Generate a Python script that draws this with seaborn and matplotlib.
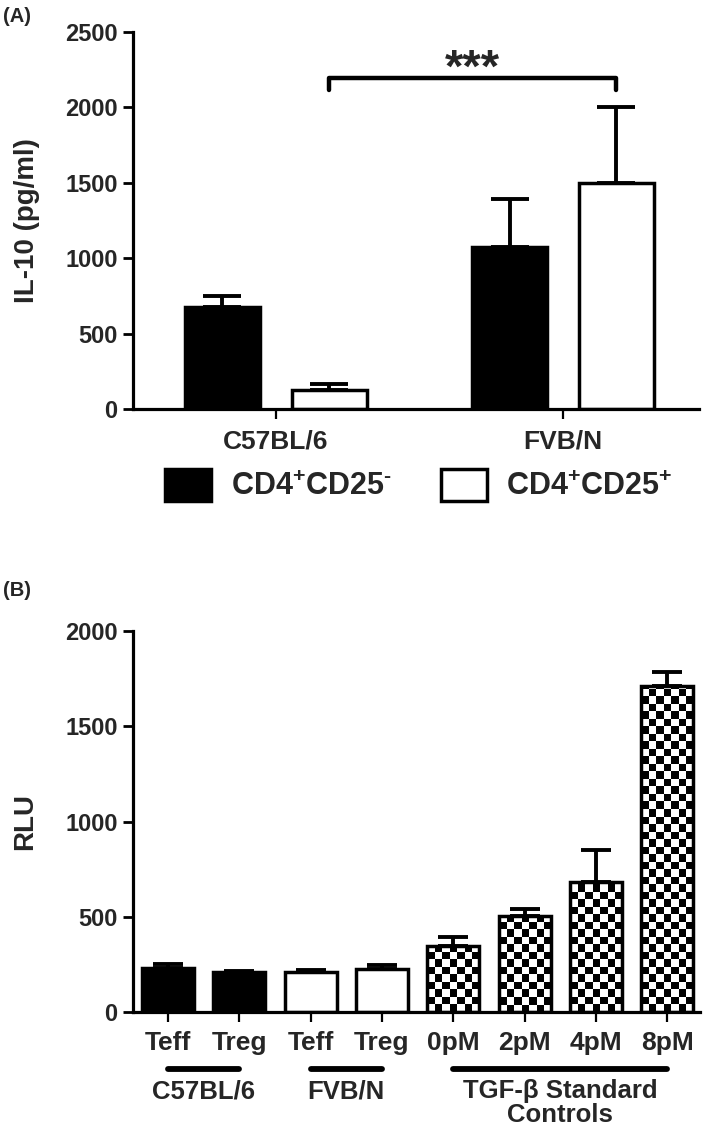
import numpy as np
import pandas as pd
import matplotlib
matplotlib.use("Agg")
import matplotlib.pyplot as plt
import matplotlib.transforms as mtransforms
from matplotlib.patches import Patch
import seaborn as sns

# -------------------------------
# Data
# -------------------------------
strains = ["C57BL/6", "FVB/N"]
cells = ["CD4$^{+}$CD25$^{\\text{-}}$", "CD4$^{+}$CD25$^{+}$"]
il10_neg = [675, 1077]
il10_neg_err = [75, 313]
il10_pos = [125, 1500]
il10_pos_err = [40, 500]

samples = ["C57BL/6 Teff", "C57BL/6 Treg", "FVB/N Teff", "FVB/N Treg",
           "TGF 0pM", "TGF 2pM", "TGF 4pM", "TGF 8pM"]
tick_labels = ["Teff", "Treg", "Teff", "Treg", "0pM", "2pM", "4pM", "8pM"]
rlu = [230, 210, 212, 228, 345, 503, 680, 1712]
rlu_err = [20, 5, 8, 18, 48, 37, 170, 72]
fills = ["black", "black", "white", "white", "white", "white", "white", "white"]
checkered = [False, False, False, False, True, True, True, True]
groups = ["C57BL/6", "FVB/N", "TGF-\u03b2 Standard\nControls"]
group_spans = [(0, 1), (2, 3), (4, 7)]

# -------------------------------
# Style
# -------------------------------
sns.set_style("ticks")
plt.rcParams["font.family"] = ["Liberation Sans", "DejaVu Sans"]
plt.rcParams["font.weight"] = "bold"
plt.rcParams["axes.labelweight"] = "bold"
plt.rcParams["mathtext.fontset"] = "custom"
plt.rcParams["mathtext.rm"] = "Liberation Sans:bold"
plt.rcParams["mathtext.it"] = "Liberation Sans:bold"
plt.rcParams["mathtext.bf"] = "Liberation Sans:bold"

fig = plt.figure(figsize=(7.09, 11.27), dpi=100)
axA = fig.add_axes([0.1876, 0.6368, 0.7983, 0.3351])
axB = fig.add_axes([0.1876, 0.1020, 0.7997, 0.3381])


def style_axis(ax):
    sns.despine(ax=ax)
    for s in ["left", "bottom"]:
        ax.spines[s].set_linewidth(2.3)
        ax.spines[s].set_color("black")
    ax.tick_params(axis="y", length=7, width=2, pad=4, labelsize=17, color="black")
    ax.tick_params(axis="x", length=7.5, width=1.6, color="black")


# -------------------------------
# Panel A
# -------------------------------
df_a = pd.DataFrame({
    "strain": strains * 2,
    "cell": [cells[0]] * 2 + [cells[1]] * 2,
    "il10": il10_neg + il10_pos,
    "err": il10_neg_err + il10_pos_err,
})

sns.barplot(data=df_a, x="strain", y="il10", hue="cell", order=strains,
            hue_order=cells, palette=["black", "white"], edgecolor="black",
            linewidth=2.5, width=0.745, gap=0.3, errorbar=None, legend=False,
            ax=axA)

centers = {}
for p in axA.patches:
    cx = p.get_x() + p.get_width() / 2
    h = p.get_height()
    row = df_a.iloc[(df_a["il10"] - h).abs().argmin()]
    centers[(row["strain"], row["cell"])] = cx
    axA.errorbar(cx, h, yerr=[[0], [row["err"]]], fmt="none", ecolor="black",
                 elinewidth=2.8, capsize=14, capthick=2.8, zorder=1)

# significance bracket between the CD25+ bars
x1 = centers[(strains[0], cells[1])]
x2 = centers[(strains[1], cells[1])]
axA.plot([x1, x1, x2, x2], [2115, 2190, 2190, 2115], color="black", lw=3.2,
         solid_joinstyle="round", solid_capstyle="round", clip_on=False)
axA.text((x1 + x2) / 2, 2250, "***", ha="center", va="center", fontsize=34)

axA.set_xlim(-0.498, 1.474)
axA.set_ylim(0, 2500)
axA.set_yticks(np.arange(0, 2501, 500))
axA.set_xlabel("")
axA.set_ylabel("IL-10 (pg/ml)", fontsize=20, fontweight="bold")
axA.yaxis.set_label_coords(-0.164, 0.5)
style_axis(axA)
axA.tick_params(axis="x", labelsize=19, pad=7)

handles = [Patch(facecolor="black", edgecolor="black", linewidth=2.5),
           Patch(facecolor="white", edgecolor="black", linewidth=2.5)]
fig.legend(handles, cells, loc="upper left", bbox_to_anchor=(0.2327, 0.5835),
           ncol=2, frameon=False, fontsize=22, handlelength=1.5,
           handleheight=1.2, handletextpad=0.65, columnspacing=1.6,
           borderpad=0, borderaxespad=0)

# -------------------------------
# Panel B
# -------------------------------
df_b = pd.DataFrame({"sample": samples, "rlu": rlu, "err": rlu_err})

sns.barplot(data=df_b, x="sample", y="rlu", hue="sample", order=samples,
            hue_order=samples, palette=fills, edgecolor="black", linewidth=2.5,
            width=0.73, errorbar=None, legend=False, ax=axB)

axB.set_xlim(-0.49, 7.46)
axB.set_ylim(0, 2000)

bars = sorted(axB.patches, key=lambda p: p.get_x())
bb = axB.get_window_extent()
sx = 7.5 * (7.46 + 0.49) / bb.width
sy = 7.5 * 2000 / bb.height
for i, p in enumerate(bars):
    cx = p.get_x() + p.get_width() / 2
    axB.errorbar(cx, rlu[i], yerr=[[0], [rlu_err[i]]], fmt="none",
                 ecolor="black", elinewidth=2.8, capsize=10.5, capthick=2.8,
                 zorder=1)
    if checkered[i]:
        w = p.get_width()
        ncol = max(1, int(round(w / sx)))
        nrow = int(np.ceil(rlu[i] / sy)) + 1
        board = np.indices((nrow, ncol)).sum(axis=0) % 2
        im = axB.imshow(board, cmap="gray_r", vmin=0, vmax=1, origin="lower",
                        extent=[p.get_x(), p.get_x() + w, 0, nrow * sy],
                        aspect="auto", interpolation="nearest", zorder=2)
        im.set_clip_path(p)
        p.set_facecolor("none")
        p.set_zorder(3)

axB.set_xlim(-0.49, 7.46)
axB.set_ylim(0, 2000)
axB.set_yticks(np.arange(0, 2001, 500))
axB.set_xticks(range(len(samples)))
axB.set_xticklabels(tick_labels, fontweight="bold")
axB.set_xlabel("")
axB.set_ylabel("RLU", fontsize=20, fontweight="bold")
axB.yaxis.set_label_coords(-0.168, 0.5)
style_axis(axB)
axB.tick_params(axis="x", labelsize=19, pad=6)

trans = mtransforms.blended_transform_factory(axB.transData, axB.transAxes)
for name, (a, b) in zip(groups, group_spans):
    axB.plot([a, b], [-0.150, -0.150], transform=trans, color="black", lw=4.2,
             solid_capstyle="round", clip_on=False)
    axB.text((a + b) / 2, -0.176, name, transform=trans, ha="center",
             va="top", fontsize=18.5, linespacing=1.0)

# panel letters
fig.text(0.004, 1 - 16 / 1127, "(A)", fontsize=14.5, va="center", ha="left")
fig.text(0.004, 1 - 591 / 1127, "(B)", fontsize=14.5, va="center", ha="left")

fig.savefig("out.png", dpi=100)
